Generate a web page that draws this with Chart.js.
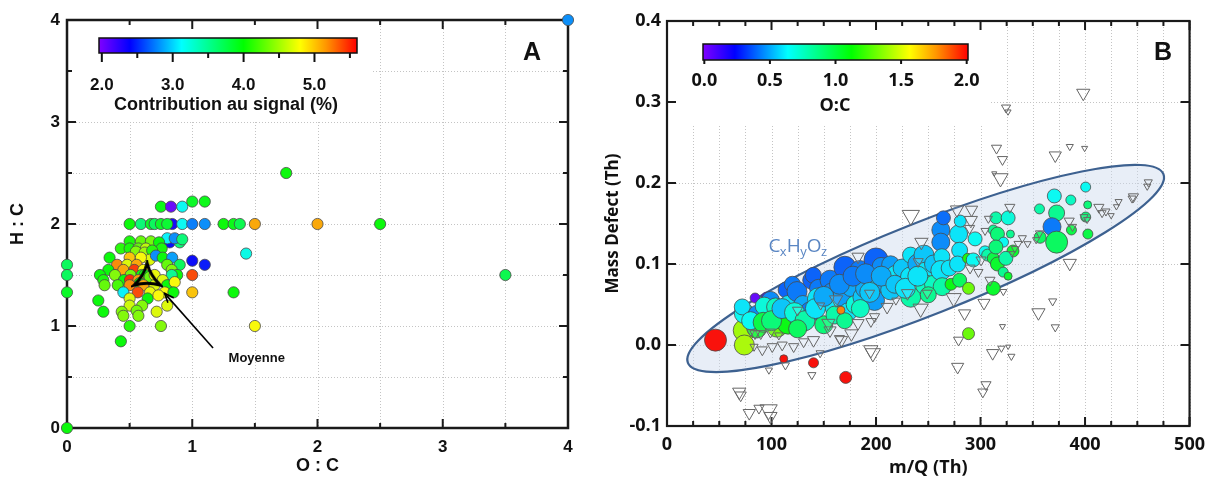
<!DOCTYPE html>
<html><head><meta charset="utf-8">
<script src="https://cdn.jsdelivr.net/npm/chart.js@4.4.1/dist/chart.umd.min.js"></script>
<style>
html,body{margin:0;padding:0;background:#fff;}
#wrap{position:relative;width:1213px;height:488px;overflow:hidden;}
#cA{position:absolute;left:0;top:0;}
#cB{position:absolute;left:600px;top:0;}
</style></head><body>
<div id="wrap"><canvas id="cA" width="600" height="488"></canvas><canvas id="cB" width="613" height="488"></canvas></div>
<script>
// ---------- Panel A data: O:C, H:C, contribution au signal (%) ----------
const ocA = [
0.82,0.84,0,4,0,0,0,1.75,3.5,1.5,
1.43,1.33,1.0,1.1,1.0,1.0,0.75,0.83,0.92,1.0,
1.1,0.5,0.59,0.67,0.70,0.75,0.8,0.92,1.0,1.1,
1.25,1.33,1.38,1.5,2.0,2.5,0.90,0.80,0.86,0.92,
0.5,0.59,0.67,0.735,0.43,0.50,0.57,0.63,0.756,0.55,
0.62,0.68,0.66,0.71,0.34,0.50,0.59,0.764,0.84,0.90,
0.40,0.48,0.556,0.80,0.33,0.45,0.537,0.61,0.836,0.88,
0.263,0.383,0.508,0.596,0.62,0.66,0.70,0.836,0.29,0.455,
0.503,0.57,0.58,0.764,0.30,0.405,0.50,0.61,0.70,0.80,
0.86,0.45,0.565,0.663,0.78,0.85,0.25,0.50,0.644,0.73,
0.50,0.60,0.80,0.29,0.437,0.556,0.716,0.45,0.57,0.5,0.75,0.43];
const hcA = [
1.82,2.0,0,4,1.6,1.5,1.33,2.5,1.5,1.0,
1.71,1.33,1.64,1.6,1.5,1.33,2.17,2.17,2.17,2.22,
2.22,2,2,2,2,2,2,2,2,2,
2,2,2,2,2,2,1.82,1.86,1.86,1.85,
1.83,1.83,1.83,1.82,1.76,1.76,1.76,1.76,1.76,1.73,
1.72,1.74,1.65,1.69,1.67,1.67,1.67,1.67,1.67,1.6,
1.6,1.6,1.6,1.6,1.55,1.55,1.55,1.55,1.55,1.5,
1.5,1.5,1.5,1.5,1.5,1.48,1.5,1.5,1.45,1.45,
1.45,1.45,1.42,1.45,1.4,1.4,1.4,1.4,1.4,1.4,
1.43,1.33,1.33,1.33,1.33,1.33,1.25,1.27,1.27,1.3,
1.2,1.2,1.2,1.14,1.14,1.15,1.14,1.1,1.1,1.0,1.0,0.85];
const contribA = [
2.4,2.35,4.0,2.8,3.7,3.7,3.9,4.0,3.75,4.8,
3.2,4.0,2.4,2.45,5.4,5.0,3.95,2.05,3.15,3.9,
3.95,4.0,3.6,3.9,3.7,3.9,3.85,3.15,2.75,2.8,
4.0,3.95,3.75,5.1,5.1,4.0,3.6,3.1,2.8,3.6,
4.05,4.3,4.35,4.0,4.1,4.05,4.3,4.6,4.05,4.4,
4.5,4.1,4.7,2.8,4.0,5.0,4.8,4.0,2.85,3.7,
5.2,4.7,5.1,4.3,4.0,5.1,5.45,4.8,4.4,4.0,
4.0,4.4,4.35,4.0,4.0,4.3,4.75,3.5,4.05,4.0,
5.5,5.15,4.0,4.7,4.3,4.2,5.2,5.1,4.7,4.0,
4.8,3.1,5.4,4.75,4.8,4.0,4.0,4.7,4.0,4.8,
4.65,4.4,4.7,4.0,4.4,4.35,4.7,4.4,4.4,4.1,4.4,4.0];
const meanA = [{x:0.64, y:1.48}];
const ticksA = [0,1,2,3,4];
const cbarTicksA = [2.0,3.0,4.0,5.0];

// ---------- Panel B data: m/Q (Th), mass defect (Th), O:C, relative signal ----------
const mzB = [
46.4,73.9,74,74,72,84.3,95,86.5,86,99,
93,103.9,105.4,108,114,116.5,115.8,120,124.4,127.5,
130,137,138.5,140,145,144.9,150,156,157.6,160.7,
160.7,168,173.3,170.2,176.4,180,184.4,187.5,190,198.6,
198.6,200,204.9,210,214,214,219,225,233.2,233,
233,240,245.9,247.4,247.4,255,255,262,264.5,262,
263,262,263.3,270,279,280.6,280,278,271.8,280,
288.5,288.5,287.6,294.8,293,304.3,306.8,312.2,316.2,314.7,
326.4,312.2,316.2,328.6,322,314.7,331,324.2,321.7,326.4,
312.2,356.4,370.6,386.4,400.6,372.8,402.5,368.4,372.8,357,
387,400.6,402.7,111.7,140.2,171,
80,92,100,110,122,132,125,142,150,165,
178,190,205,218,228,240,250,185,170,194,
166.4];
const mdB = [
0.006,0.018,0.0,0.039,0.047,0.058,0.059,0.038,0.021,0.055,
0.048,0.047,0.022,0.035,0.068,0.049,0.027,0.075,0.066,0.027,
0.05,0.041,0.08,0.086,0.07,0.057,0.025,0.08,0.064,0.047,
0.037,0.06,0.041,0.096,0.072,0.05,0.092,0.059,0.07,0.08,
0.055,0.105,0.097,0.075,0.099,0.068,0.086,0.095,0.059,0.111,
0.084,0.1,0.111,0.09,0.074,0.1,0.075,0.142,0.157,0.127,
0.109,0.092,0.072,0.095,0.137,0.153,0.117,0.1,0.075,0.08,
0.07,0.014,0.107,0.131,0.105,0.115,0.111,0.107,0.1,0.157,
0.157,0.142,0.137,0.137,0.127,0.121,0.116,0.107,0.09,0.085,
0.07,0.168,0.184,0.179,0.195,0.163,0.173,0.146,0.127,0.133,
0.142,0.158,0.137,-0.017,-0.022,-0.040,
0.03,0.028,0.03,0.045,0.04,0.03,0.02,0.045,0.06,0.075,
0.085,0.088,0.085,0.075,0.07,0.085,0.062,0.045,0.03,0.065,
0.043];
const ocB = [
2.0,1.4,1.42,0.65,0.6,0.05,0.1,0.45,1.05,0.45,
0.7,0.75,1.3,0.9,0.38,0.6,1.1,0.42,0.42,0.9,
0.5,0.42,0.38,0.38,0.42,0.6,0.9,0.42,0.45,0.6,
0.8,0.48,0.6,0.38,0.5,0.7,0.42,0.55,0.5,0.6,
0.48,0.38,0.45,0.5,0.48,0.55,0.6,0.55,0.8,0.6,
0.6,0.5,0.55,0.6,0.75,0.55,0.75,0.45,0.4,0.45,
0.6,0.6,0.8,0.6,0.6,0.6,0.6,0.6,1.1,0.95,
1.3,1.3,1.15,0.65,0.65,0.65,0.8,1.0,1.05,0.8,
0.7,0.85,0.9,0.85,0.65,0.9,1.05,0.8,0.85,1.05,
1.05,0.8,0.65,0.75,0.65,0.85,0.9,0.42,0.95,0.95,
1.0,0.9,1.0,2.0,2.0,2.0,
0.65,1.0,0.9,0.55,0.7,0.8,0.95,0.6,0.5,0.45,
0.42,0.45,0.5,0.55,0.6,0.6,0.85,0.75,0.85,0.55,
1.8];
const relIntB = [
11,11,10,10,8,5,5,9,10,9,
9,9,10,9,8,10,11,8,10,10,
9,10,9,8,9,11,9,10,10,10,
9,10,9,11,10,9,10,10,10,10,
10,12,9,10,9,10,10,9,10,8,
10,10,10,10,10,9,9,9,7,9,
8,10,9,8,9,6,8,8,6,7,
6,6,5,7,7,6,6,6,7,6,
7,5,7,4,5,7,6,7,5,4,
7,5,7,5,5,8,4,9,11,6,
5,5,5,4,5,6,
9,10,10,10,10,10,9,10,10,10,
10,10,10,9,10,10,8,9,8,10,
4];
// non-CHO ions (open triangles)
const mzTri = [
398.3,324.4,326.3,315.3,321,319.1,313.1,371.5,385.4,399.6,
460.5,459.5,446.3,445,432.1,430,413.2,416.3,399,402,
384.8,388,356.4,353.2,340,335.9,332.8,330,328,307.5,
304.3,290.7,277.5,291.4,233.3,243.4,289.5,300.5,385.4,309,
321.8,303.3,284.7,279,355.4,369,371.5,321,311.6,326.4,
329.5,320,242.7,278.1,305.2,302.2,274.3,182.8,193.8,197,
195,176.4,167,182.8,156,140.2,130.7,121.2,110.2,100.7,
91.2,83.3,80.2,89.7,107,113.3,97.5,138.6,146.5,69.1,
70.5,78.7,97.2,99,88,230.1,249,219,210.6,198.6,
240.3,147,161.8,154.4,124.9,99,84.2,165,195.1,290,
298,345,420,425];
const mdTri = [
0.311,0.293,0.288,0.243,0.229,0.206,0.212,0.234,0.245,0.243,
0.201,0.196,0.183,0.181,0.177,0.171,0.170,0.163,0.158,0.155,
0.153,0.146,0.138,0.130,0.132,0.125,0.119,0.113,0.170,0.156,
0.141,0.154,0.167,0.167,0.160,0.127,0.144,0.105,0.101,0.080,
0.066,0.052,0.039,0.006,0.040,0.054,0.022,0.023,-0.010,-0.002,
-0.014,-0.004,0.045,-0.027,-0.049,-0.058,0.058,0.109,0.064,-0.010,
-0.006,0.014,0.006,0.027,0.018,0.006,0.004,-0.002,0.0,-0.002,
-0.006,-0.002,0.016,0.014,0.012,-0.025,-0.031,-0.037,-0.010,-0.058,
-0.062,-0.084,-0.080,-0.088,-0.078,0.064,0.064,0.055,0.047,0.035,
0.103,0.049,0.056,0.027,0.043,0.016,0.014,0.008,0.029,0.095,
0.09,0.125,0.165,0.16];
const relIntTri = [
13,9,6,10,10,15,5,12,7,6,
8,7,10,8,7,6,10,8,8,7,
10,8,8,7,8,8,7,6,10,8,
8,13,13,12,17,13,10,10,13,10,
7,12,12,10,13,8,8,6,12,5,
7,7,15,12,10,10,15,12,10,15,
14,13,12,12,12,12,10,10,10,10,
10,8,8,10,8,8,7,8,8,13,
11,12,17,13,10,12,10,8,12,10,
10,8,13,13,10,10,10,10,10,10,
9,7,8,6];
const cbarTicksB = [0.0,0.5,1.0,1.5,2.0];
// CxHyOz envelope (major-axis ends, data units)
const envB = {x1:20, y1:-0.022, x2:475, y2:0.211};

// ---------- colour map ----------
const STOPS = [[0,[128,0,255]],[0.12,[0,0,255]],[0.32,[0,255,255]],[0.56,[0,255,0]],[0.78,[255,255,0]],[0.88,[255,150,0]],[1,[255,0,0]]];
function cmap(t){
  t=Math.max(0,Math.min(1,t));
  for(let i=1;i<STOPS.length;i++){
    if(t<=STOPS[i][0]){
      const [t0,c0]=STOPS[i-1],[t1,c1]=STOPS[i];
      const f=(t-t0)/(t1-t0);
      return 'rgb('+c0.map((c,k)=>Math.round((c+(c1[k]-c)*f)*0.93+12)).join(',')+')';
    }
  }
  return 'rgb(240,12,12)';
}
const VA0=1.96, VA1=5.6, VB0=-0.01, VB1=2.01;

function colorbar(ctx, x0, x1, y0, y1, v0, v1, ticks, minor, majLen, minLen, font, labelY, title, titleX, titleY){
  const g=ctx.createLinearGradient(x0,0,x1,0);
  STOPS.forEach(s=>g.addColorStop(s[0], 'rgb('+s[1].join(',')+')'));
  ctx.fillStyle=g; ctx.fillRect(x0,y0,x1-x0,y1-y0);
  ctx.strokeStyle='#111'; ctx.lineWidth=1.5; ctx.strokeRect(x0,y0,x1-x0,y1-y0);
  const px=v=>x0+(v-v0)/(v1-v0)*(x1-x0);
  ctx.lineWidth=2;
  minor.forEach(v=>{ctx.beginPath();ctx.moveTo(px(v),y1);ctx.lineTo(px(v),y1+minLen);ctx.stroke();});
  ticks.forEach(v=>{ctx.beginPath();ctx.moveTo(px(v),y1);ctx.lineTo(px(v),y1+majLen);ctx.stroke();});
  ctx.fillStyle='#111'; ctx.font=font; ctx.textAlign='center'; ctx.textBaseline='middle';
  ticks.forEach(v=>ctx.fillText(v.toFixed(1), px(v), labelY));
  if(title) ctx.fillText(title, titleX, titleY);
}
function gridLines(ctx, a, xs, ys){
  ctx.save();
  ctx.strokeStyle='#c4c4c4'; ctx.lineWidth=1; ctx.setLineDash([1,2]);
  xs.ticks.forEach(t=>{const p=Math.round(xs.getPixelForValue(t.value))+0.5; ctx.beginPath(); ctx.moveTo(p,a.top); ctx.lineTo(p,a.bottom); ctx.stroke();});
  ys.ticks.forEach(t=>{const p=Math.round(ys.getPixelForValue(t.value))+0.5; ctx.beginPath(); ctx.moveTo(a.left,p); ctx.lineTo(a.right,p); ctx.stroke();});
  ctx.restore();
}
function frameTicks(ctx, a, xs, ys, isMajX, isMajY, frameW, L, l){
  ctx.save();
  ctx.strokeStyle='#1a1a1a'; ctx.lineWidth=2;
  xs.ticks.forEach(t=>{const p=xs.getPixelForValue(t.value); const len=isMajX(t.value)?L:l;
    ctx.beginPath(); ctx.moveTo(p,a.bottom); ctx.lineTo(p,a.bottom-len); ctx.moveTo(p,a.top); ctx.lineTo(p,a.top+len); ctx.stroke();});
  ys.ticks.forEach(t=>{const p=ys.getPixelForValue(t.value); const len=isMajY(t.value)?L:l;
    ctx.beginPath(); ctx.moveTo(a.left,p); ctx.lineTo(a.left+len,p); ctx.moveTo(a.right,p); ctx.lineTo(a.right-len,p); ctx.stroke();});
  ctx.lineWidth=frameW; ctx.strokeStyle='#1a1a1a';
  ctx.strokeRect(a.left,a.top,a.right-a.left,a.bottom-a.top);
  ctx.restore();
}
const isInt = v => Math.abs(v-Math.round(v))<1e-6;

// mean marker: concave triangle
function makeMeanMarker(){
  const c=document.createElement('canvas'); c.width=32; c.height=34;
  const g=c.getContext('2d');
  const P=[[16,3],[29,25],[3,25]]; const cx=16, cy=17.7;
  g.lineWidth=3; g.strokeStyle='#000'; g.lineJoin='miter';
  g.beginPath(); g.moveTo(P[0][0],P[0][1]);
  for(let i=0;i<3;i++){const a=P[i], b=P[(i+1)%3]; const mx=(a[0]+b[0])/2, my=(a[1]+b[1])/2;
    g.quadraticCurveTo(mx+(cx-mx)*0.5, my+(cy-my)*0.5, b[0], b[1]);}
  g.closePath(); g.stroke();
  return c;
}

const FA='"Liberation Sans", Arial, sans-serif';
const FB='"Open Sans", "DejaVu Sans", sans-serif';

const pluginA = {
  id:'pA',
  beforeDatasetsDraw(chart){
    const {ctx, chartArea:a, scales:{x,y}} = chart;
    gridLines(ctx,a,x,y);
    ctx.save();
    ctx.fillStyle='#fff'; ctx.fillRect(a.left+2, a.top+2, 370-a.left, 118-a.top);
    colorbar(ctx, 99, 357, 38, 53, VA0, VA1, cbarTicksA, [2.5,3.5,4.5,5.5], 9, 5,
      'bold 17px '+FA, 85, '', 0, 0);
    ctx.font='bold 18px '+FA; ctx.fillText('Contribution au signal (%)', 226, 105);
    ctx.font='bold 25px '+FA; ctx.fillText('A', 532, 53);
    ctx.restore();
    frameTicks(ctx,a,x,y,isInt,isInt,2.5,9,5);
  },
  afterDatasetsDraw(chart){
    const {ctx, scales:{x,y}} = chart;
    const tx=x.getPixelForValue(1.166), ty=y.getPixelForValue(0.784);
    const hx=x.getPixelForValue(0.78), hy=y.getPixelForValue(1.32);
    ctx.save();
    ctx.strokeStyle='#000'; ctx.lineWidth=1.6;
    ctx.beginPath(); ctx.moveTo(tx,ty); ctx.lineTo(hx,hy); ctx.stroke();
    const ang=Math.atan2(ty-hy, tx-hx);
    ctx.beginPath();
    ctx.moveTo(hx+10*Math.cos(ang+0.4), hy+10*Math.sin(ang+0.4)); ctx.lineTo(hx,hy);
    ctx.lineTo(hx+10*Math.cos(ang-0.4), hy+10*Math.sin(ang-0.4)); ctx.stroke();
    ctx.fillStyle='#111'; ctx.font='bold 13px '+FA; ctx.textAlign='left'; ctx.textBaseline='middle';
    ctx.fillText('Moyenne', x.getPixelForValue(1.29), y.getPixelForValue(0.686));
    ctx.restore();
  }
};

const pluginB = {
  id:'pB',
  beforeDatasetsDraw(chart){
    const {ctx, chartArea:a, scales:{x,y}} = chart;
    gridLines(ctx,a,x,y);
    ctx.save();
    ctx.fillStyle='#fff'; ctx.fillRect(a.left+2, a.top+2, 388-a.left, 122-a.top);
    // envelope
    const p1=[x.getPixelForValue(envB.x1), y.getPixelForValue(envB.y1)];
    const p2=[x.getPixelForValue(envB.x2), y.getPixelForValue(envB.y2)];
    const cx=(p1[0]+p2[0])/2, cy=(p1[1]+p2[1])/2;
    const ra=Math.hypot(p2[0]-p1[0], p2[1]-p1[1])/2, rot=Math.atan2(p2[1]-p1[1], p2[0]-p1[0]);
    ctx.beginPath(); ctx.ellipse(cx,cy,ra,46,rot,0,Math.PI*2);
    ctx.fillStyle='rgba(205,218,238,0.45)'; ctx.fill();
    ctx.strokeStyle='#3d6190'; ctx.lineWidth=2.2; ctx.stroke();
    // CxHyOz label
    let lx=x.getPixelForValue(97), ly=y.getPixelForValue(0.115);
    ctx.fillStyle='#5a86c3'; ctx.textAlign='left'; ctx.textBaseline='alphabetic';
    [['C',0],['x',1],['H',0],['y',1],['O',0],['z',1]].forEach(([s,sub])=>{
      ctx.font=sub?'13px '+FB:'19px '+FB;
      ctx.fillText(s, lx, ly+(sub?4:0));
      lx+=ctx.measureText(s).width-(sub?0:0.5);
    });
    colorbar(ctx, 103, 368, 44, 60, VB0, VB1, cbarTicksB, [], 4, 4,
      'bold 18px '+FB, 81, 'O:C', 235, 106);
    ctx.font='bold 25px '+FA; ctx.fillStyle='#111'; ctx.textAlign='center'; ctx.textBaseline='middle';
    ctx.fillText('B', 563, 53);
    ctx.restore();
    frameTicks(ctx,a,x,y,v=>Math.abs(v%100)<1e-6,()=>true,2.2,9,5);
  }
};

const common = {responsive:false, animation:false, devicePixelRatio:1, events:[],
  plugins:{legend:{display:false}, tooltip:{enabled:false}}};

new Chart(document.getElementById('cA'), {
  type:'scatter',
  data:{datasets:[
    {data: ocA.map((v,i)=>({x:v,y:hcA[i]})), order:2,
     pointBackgroundColor: contribA.map(v=>cmap((v-VA0)/(VA1-VA0))),
     pointBorderColor:'#4a4a4a', pointBorderWidth:0.8, pointRadius:5.6, clip:false},
    {data: meanA, order:1, pointStyle: makeMeanMarker(), pointRadius:12, clip:false}
  ]},
  options:{...common,
    layout:{padding:{left:0,right:32,top:20,bottom:0}},
    scales:{
      x:{type:'linear', min:0, max:4, afterFit(s){s.height=60;},
        grid:{display:false, drawTicks:false}, border:{display:false},
        ticks:{stepSize:0.5, autoSkip:false, maxRotation:0, padding:9, color:'#111',
          callback:v=>isInt(v)?String(Math.round(v)):'', font:{family:FA, weight:'bold', size:17}},
        title:{display:true, text:'O : C', color:'#111', font:{family:FA, weight:'bold', size:18}, padding:{top:0,bottom:11}}},
      y:{type:'linear', min:0, max:4, afterFit(s){s.width=67;},
        grid:{display:false, drawTicks:false}, border:{display:false},
        ticks:{stepSize:0.5, autoSkip:false, padding:7, color:'#111',
          callback:v=>isInt(v)?String(Math.round(v)):'', font:{family:FA, weight:'bold', size:17}},
        title:{display:true, text:'H : C', color:'#111', font:{family:FA, weight:'bold', size:18}, padding:{top:7,bottom:0}}}
    }
  },
  plugins:[pluginA]
});

new Chart(document.getElementById('cB'), {
  type:'scatter',
  data:{datasets:[
    {data: mzB.map((v,i)=>({x:v,y:mdB[i]})), order:2,
     pointBackgroundColor: ocB.map(v=>cmap((v-VB0)/(VB1-VB0))),
     pointBorderColor:'#4a4a4a', pointBorderWidth:0.8, pointRadius: relIntB.map(s=>s*1.0), clip:false},
    {data: mzTri.map((v,i)=>({x:v,y:mdTri[i]})), order:1, pointStyle:'triangle', pointRotation:180,
     pointBackgroundColor:'rgba(255,255,255,0.12)', pointBorderColor:'#666', pointBorderWidth:1,
     pointRadius: relIntTri.map(s=>s/1.7), clip:false}
  ]},
  options:{...common,
    layout:{padding:{left:0,right:18,top:21,bottom:0}},
    scales:{
      x:{type:'linear', min:0, max:500, afterFit(s){s.height=62;},
        grid:{display:false, drawTicks:false}, border:{display:false},
        ticks:{stepSize:25, autoSkip:false, maxRotation:0, padding:8, color:'#111',
          callback:v=>Math.abs(v%100)<1e-6?String(v):'', font:{family:FB, weight:'bold', size:18}},
        title:{display:true, text:'m/Q (Th)', color:'#111', font:{family:FB, weight:'bold', size:18}, padding:{top:0,bottom:9}}},
      y:{type:'linear', min:-0.1, max:0.4, afterFit(s){s.width=67;},
        grid:{display:false, drawTicks:false}, border:{display:false},
        ticks:{stepSize:0.1, autoSkip:false, padding:6, color:'#111',
          callback:v=>v.toFixed(1), font:{family:FB, weight:'bold', size:18}},
        title:{display:true, text:'Mass Defect (Th)', color:'#111', font:{family:FB, weight:'bold', size:17}, padding:{top:3,bottom:0}}}
    }
  },
  plugins:[pluginB]
});
</script>
</body></html>
